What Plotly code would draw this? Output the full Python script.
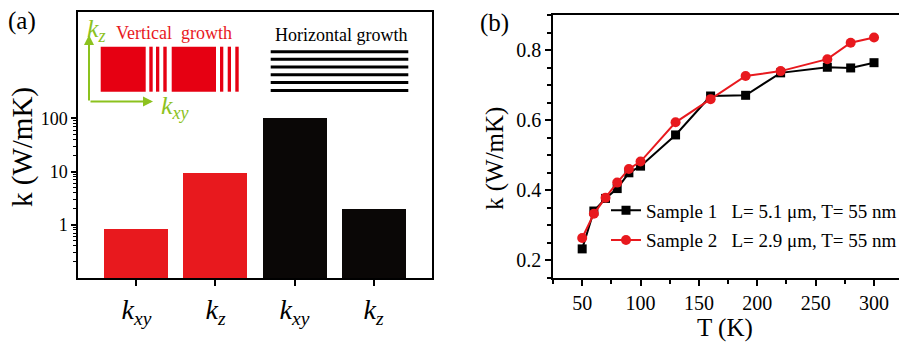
import plotly.graph_objects as go

W, H = 899, 346

# ---------------- data ----------------
# Panel (a)
bar_categories = ["xy_v", "z_v", "xy_h", "z_h"]
bar_ticktext = ["<i>k</i><sub><i>xy</i></sub>", "<i>k</i><sub><i>z</i></sub>",
                "<i>k</i><sub><i>xy</i></sub>", "<i>k</i><sub><i>z</i></sub>"]
bar_values = [0.82, 9.5, 100, 2.0]
bar_colors = ["#E8191E", "#E8191E", "#0A0706", "#0A0706"]

# Panel (b)
temperature = [50, 60, 70, 80, 90, 100, 130, 160, 190, 220, 260, 280, 300]
sample1 = [0.233, 0.341, 0.377, 0.405, 0.450, 0.469, 0.558, 0.669, 0.671, 0.735, 0.751, 0.749, 0.764]
sample2 = [0.264, 0.333, 0.379, 0.422, 0.461, 0.482, 0.594, 0.660, 0.726, 0.740, 0.774, 0.821, 0.836]
sample1_name = "Sample 1\u00a0\u00a0\u00a0L= 5.1 \u03bcm, T= 55 nm"
sample2_name = "Sample 2\u00a0\u00a0\u00a0L= 2.9 \u03bcm, T= 55 nm"

FONT = "Liberation Serif, Times New Roman, serif"
RED = "#E8191E"
GREEN = "#8CC21E"


def px(x):
    return x / W


def py(y):
    return 1 - y / H


fig = go.Figure()

fig.add_trace(go.Bar(
    x=bar_categories, y=bar_values, marker=dict(color=bar_colors, line=dict(width=0)),
    width=0.81, showlegend=False, xaxis="x", yaxis="y",
))

fig.add_trace(go.Scatter(
    x=temperature, y=sample1, mode="lines+markers", name=sample1_name,
    line=dict(color="black", width=2), marker=dict(symbol="square", size=9, color="black"),
    xaxis="x2", yaxis="y2", legendgroup="s1",
))
fig.add_trace(go.Scatter(
    x=temperature, y=sample2, mode="lines+markers", name=sample2_name,
    line=dict(color=RED, width=2), marker=dict(symbol="circle", size=10, color=RED),
    xaxis="x2", yaxis="y2", legendgroup="s2",
))

minor_log = [m * d for d in (0.1, 1, 10) for m in range(2, 10)]

axis_common = dict(showline=True, linecolor="black", linewidth=1.5, showgrid=False,
                   zeroline=False, ticks="outside", tickcolor="black", tickwidth=1.5,
                   automargin=False)

fig.update_layout(
    width=W, height=H, margin=dict(l=0, r=0, t=0, b=0, autoexpand=False),
    paper_bgcolor="white", plot_bgcolor="white",
    font=dict(family=FONT, color="black"),
    bargap=0,
    xaxis=dict(domain=[px(78), px(432)], range=[-0.74, 3.74], mirror=True,
               tickmode="array", tickvals=bar_categories, ticktext=bar_ticktext,
               ticklen=6, ticklabelstandoff=0,
               tickfont=dict(size=28, family=FONT), anchor="y", **axis_common),
    yaxis=dict(domain=[py(278), py(12)], type="log", range=[-1, 4], mirror=True,
               tickmode="array", tickvals=[1, 10, 100], ticktext=["1", "10", "100"],
               ticklen=5, tickfont=dict(size=18, family=FONT), anchor="x",
               minor=dict(tickvals=minor_log, ticks="outside", ticklen=3,
                          tickcolor="black", tickwidth=1),
               **axis_common),
    xaxis2=dict(domain=[px(553), 1.0], range=[25, 321.4], mirror=True,
                tickmode="array", tickvals=[50, 100, 150, 200, 250, 300],
                ticklen=6, tickfont=dict(size=20, family=FONT), anchor="y2",
                minor=dict(dtick=25, tick0=25, ticks="outside", ticklen=4,
                           tickcolor="black", tickwidth=1.5),
                **axis_common),
    yaxis2=dict(domain=[py(278), py(15)], range=[0.15, 0.9], mirror=False,
                tickmode="array", tickvals=[0.2, 0.4, 0.6, 0.8],
                ticklen=6, tickfont=dict(size=20, family=FONT), anchor="x2",
                minor=dict(dtick=0.05, tick0=0.15, ticks="outside", ticklen=4,
                           tickcolor="black", tickwidth=1.5),
                **axis_common),
    legend=dict(x=px(606), y=py(191.5), xanchor="left", yanchor="top",
                bgcolor="rgba(0,0,0,0)", font=dict(size=19, family=FONT),
                tracegroupgap=2, traceorder="grouped", itemwidth=30),
)

# ---------------- decorations / inset of panel (a) ----------------
shapes = []
# red blocks and stripes (vertical growth)
for x0, x1 in [(100.7, 145.7), (149.3, 152.7), (156, 159.3), (163.3, 166.7),
               (171.7, 216), (220, 223.3), (227.7, 231), (235.3, 238.7)]:
    shapes.append(dict(type="rect", xref="paper", yref="paper",
                       x0=px(x0), x1=px(x1), y0=py(91.7), y1=py(46.7),
                       fillcolor="#E60012", line=dict(width=0)))
# black lines (horizontal growth)
for yy in [51.7, 59.3, 67, 74.7, 82.4, 90.5]:
    shapes.append(dict(type="line", xref="paper", yref="paper",
                       x0=px(270.7), x1=px(408.3), y0=py(yy), y1=py(yy),
                       line=dict(color="black", width=3)))
fig.update_layout(shapes=shapes)


def label(x, y, text, size, color="black", angle=0):
    return dict(x=px(x), y=py(y), xref="paper", yref="paper", showarrow=False,
                xanchor="center", yanchor="middle", text=text, textangle=angle,
                font=dict(size=size, color=color, family=FONT))


annotations = [
    # green arrows
    dict(x=px(89), y=py(35), xref="paper", yref="paper", ax=0, ay=67, text="",
         showarrow=True, arrowhead=2, arrowsize=1, arrowwidth=2, arrowcolor=GREEN),
    dict(x=px(153), y=py(101.5), xref="paper", yref="paper", ax=-64, ay=0, text="",
         showarrow=True, arrowhead=2, arrowsize=1, arrowwidth=2, arrowcolor=GREEN),
    label(96, 30, "<i>k<sub>z</sub></i>", 26, GREEN),
    label(175, 107, "<i>k<sub>xy</sub></i>", 26, GREEN),
    label(174, 33, "Vertical\u00a0\u00a0growth", 18, RED),
    label(341, 35, "Horizontal growth", 18),
    # panel labels
    label(22, 21, "(a)", 25),
    label(494, 23, "(b)", 25),
    # axis titles
    label(22, 147, "k (W/mK)", 29, angle=-90),
    label(495, 159, "k (W/mK)", 25, angle=-90),
    label(725, 328, "T (K)", 25),
]
fig.update_layout(annotations=annotations)

fig.write_html("out.html")
